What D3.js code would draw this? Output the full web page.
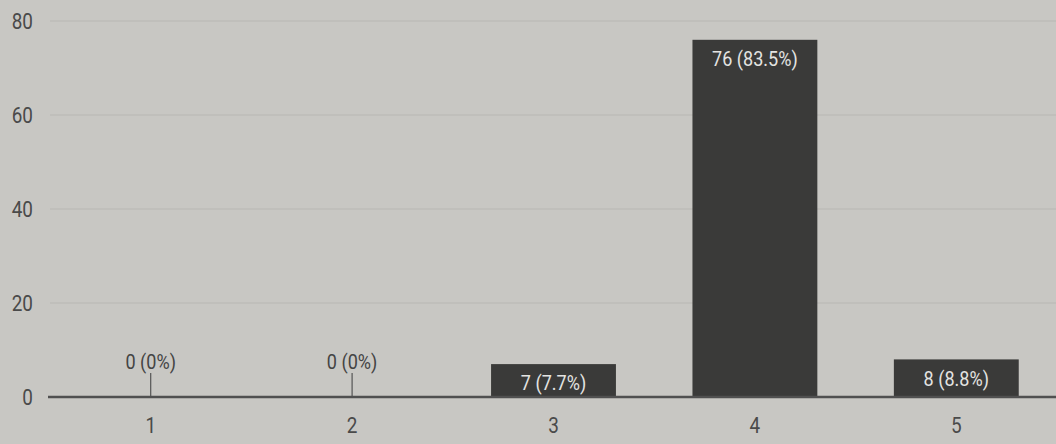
<!DOCTYPE html>
<html>
<head>
<meta charset="utf-8">
<script src="https://cdn.jsdelivr.net/npm/d3@7"></script>
<style>
  html, body { margin: 0; padding: 0; background: #c8c7c3; }
  svg { display: block; }
</style>
</head>
<body>
<div id="chart"></div>
<script>
// chart size
var width = 1056;
var height = 444;
var font = "Roboto, sans-serif";
var squeeze = 0.86; // the photo's text looks narrow

// data
var categories = ["1", "2", "3", "4", "5"];
var counts = [0, 0, 7, 76, 8];
var percents = ["0%", "0%", "7.7%", "83.5%", "8.8%"];
var yTicks = [0, 20, 40, 60, 80];

var margin = {top: 21, right: 0, bottom: 47, left: 50};

var svg = d3.select("#chart").append("svg")
  .attr("width", width)
  .attr("height", height);

svg.append("rect")
  .attr("width", width)
  .attr("height", height)
  .attr("fill", "#c8c7c3");

var x = d3.scaleBand()
  .domain(categories)
  .range([margin.left, width + 1])
  .paddingInner(0.38)
  .paddingOuter(0.19);

var y = d3.scaleLinear()
  .domain([0, 80])
  .range([height - margin.bottom, margin.top]);

function place(px, py) {
  return "translate(" + px + "," + py + ") scale(" + squeeze + ",1)";
}

// gridlines
svg.append("g")
  .selectAll("line")
  .data(yTicks.slice(1))
  .enter()
  .append("line")
  .attr("x1", margin.left)
  .attr("x2", width)
  .attr("y1", function(d) { return y(d); })
  .attr("y2", function(d) { return y(d); })
  .attr("stroke", "#bebdb9")
  .attr("stroke-width", 1.5);

// y tick labels
svg.append("g")
  .selectAll("text")
  .data(yTicks)
  .enter()
  .append("text")
  .attr("transform", function(d) { return place(33, y(d)); })
  .attr("dy", "0.35em")
  .attr("text-anchor", "end")
  .attr("font-family", font)
  .attr("font-size", 22)
  .attr("fill", "#4a4a4a")
  .text(function(d) { return d; });

var rows = categories.map(function(c, i) {
  return {cat: c, count: counts[i], pct: percents[i]};
});

// bars
svg.append("g")
  .selectAll("rect")
  .data(rows.filter(function(d) { return d.count > 0; }))
  .enter()
  .append("rect")
  .attr("x", function(d) { return x(d.cat); })
  .attr("y", function(d) { return y(d.count); })
  .attr("width", x.bandwidth())
  .attr("height", function(d) { return y(0) - y(d.count); })
  .attr("fill", "#3a3a39");

// zero value ticks
svg.append("g")
  .selectAll("line")
  .data(rows.filter(function(d) { return d.count === 0; }))
  .enter()
  .append("line")
  .attr("x1", function(d) { return x(d.cat) + x.bandwidth() / 2; })
  .attr("x2", function(d) { return x(d.cat) + x.bandwidth() / 2; })
  .attr("y1", y(0) - 24)
  .attr("y2", y(0))
  .attr("stroke", "#555")
  .attr("stroke-width", 1.2);

// value labels
svg.append("g")
  .selectAll("text")
  .data(rows)
  .enter()
  .append("text")
  .attr("transform", function(d) {
    var cx = x(d.cat) + x.bandwidth() / 2;
    var cy = d.count > 0 ? y(d.count) + 19 : y(0) - 35;
    return place(cx, cy);
  })
  .attr("dy", "0.35em")
  .attr("text-anchor", "middle")
  .attr("font-family", font)
  .attr("font-size", 21)
  .attr("fill", function(d) { return d.count > 0 ? "#e4e4e2" : "#444"; })
  .text(function(d) { return d.count + " (" + d.pct + ")"; });

// baseline
svg.append("line")
  .attr("x1", margin.left - 2)
  .attr("x2", width)
  .attr("y1", y(0))
  .attr("y2", y(0))
  .attr("stroke", "#505050")
  .attr("stroke-width", 2.5);

// x axis labels
var xAxis = d3.axisBottom(x).tickSize(0).tickPadding(0);
var gx = svg.append("g")
  .attr("transform", "translate(0," + y(0) + ")")
  .call(xAxis);
gx.select(".domain").remove();
gx.selectAll("text")
  .attr("dy", null)
  .attr("y", null)
  .attr("transform", place(0, 30))
  .attr("dominant-baseline", "middle")
  .attr("font-family", font)
  .attr("font-size", 22)
  .attr("fill", "#4a4a4a");
</script>
</body>
</html>
